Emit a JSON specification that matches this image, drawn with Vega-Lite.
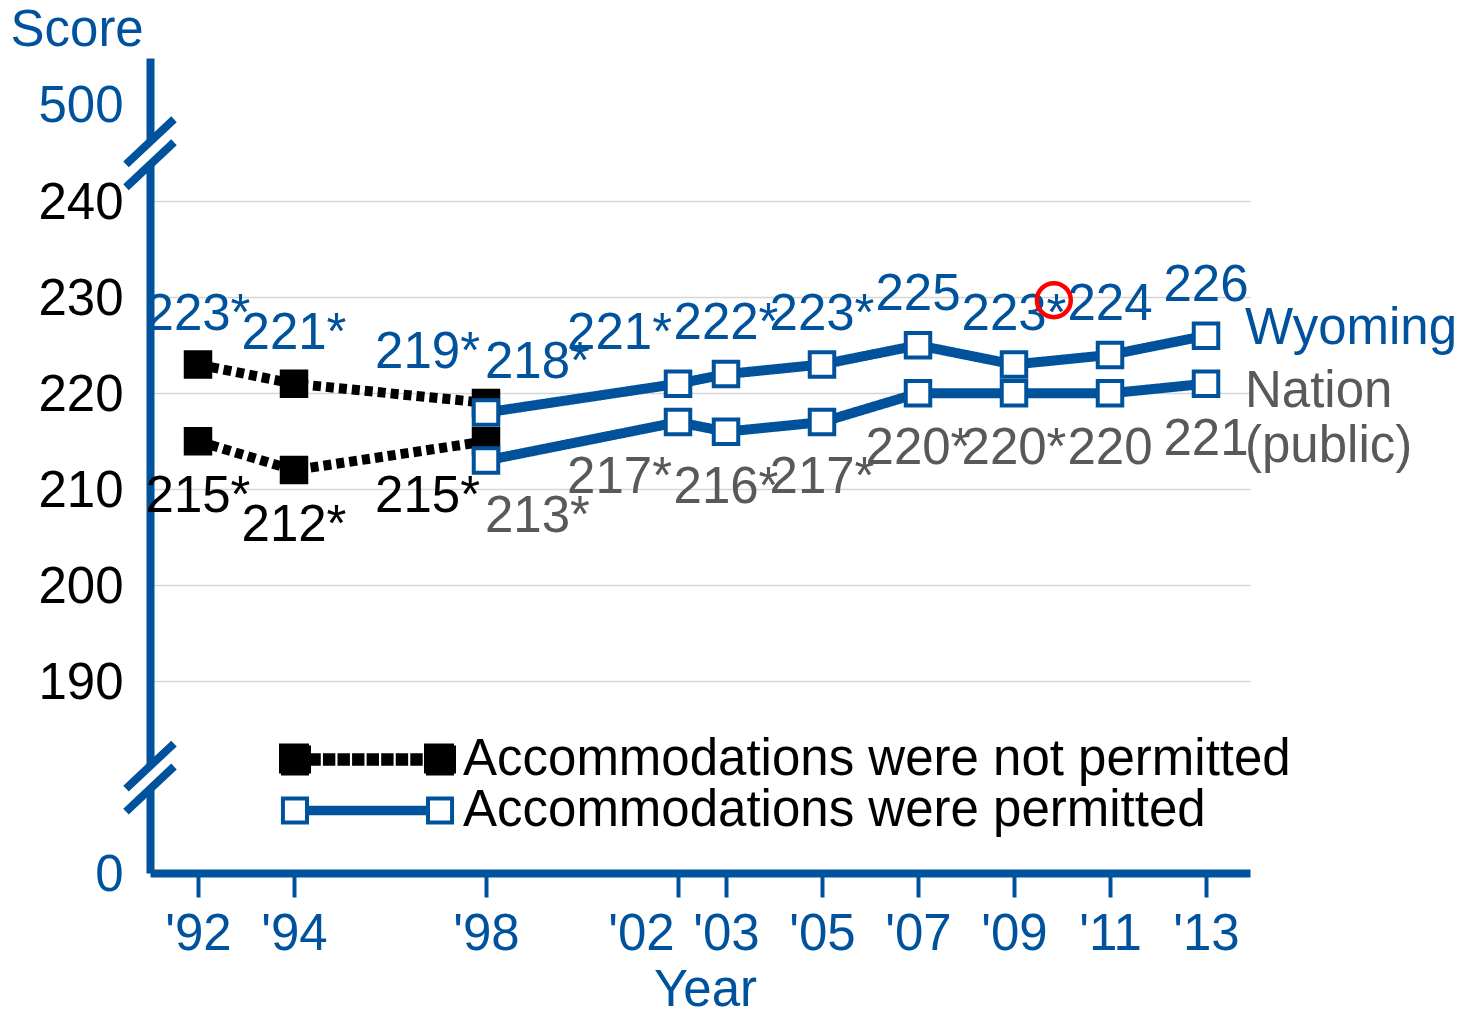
{
  "$schema": "https://vega.github.io/schema/vega-lite/v6.json",
  "width": 1100,
  "height": 815,
  "autosize": {"type": "none"},
  "padding": {"left": 150, "top": 58, "right": 214, "bottom": 139},
  "background": "white",
  "config": {
    "font": "Liberation Sans",
    "view": {"stroke": null}
  },
  "data": {"values": [
    {"jurisdiction": "Wyoming", "accom": "Accommodations were not permitted", "year": 1992, "score": 223, "label": "223*"},
    {"jurisdiction": "Wyoming", "accom": "Accommodations were not permitted", "year": 1994, "score": 221, "label": "221*"},
    {"jurisdiction": "Wyoming", "accom": "Accommodations were not permitted", "year": 1998, "score": 219, "label": "219*"},
    {"jurisdiction": "Nation (public)", "accom": "Accommodations were not permitted", "year": 1992, "score": 215, "label": "215*"},
    {"jurisdiction": "Nation (public)", "accom": "Accommodations were not permitted", "year": 1994, "score": 212, "label": "212*"},
    {"jurisdiction": "Nation (public)", "accom": "Accommodations were not permitted", "year": 1998, "score": 215, "label": "215*"},
    {"jurisdiction": "Wyoming", "accom": "Accommodations were permitted", "year": 1998, "score": 218, "label": "218*"},
    {"jurisdiction": "Wyoming", "accom": "Accommodations were permitted", "year": 2002, "score": 221, "label": "221*"},
    {"jurisdiction": "Wyoming", "accom": "Accommodations were permitted", "year": 2003, "score": 222, "label": "222*"},
    {"jurisdiction": "Wyoming", "accom": "Accommodations were permitted", "year": 2005, "score": 223, "label": "223*"},
    {"jurisdiction": "Wyoming", "accom": "Accommodations were permitted", "year": 2007, "score": 225, "label": "225"},
    {"jurisdiction": "Wyoming", "accom": "Accommodations were permitted", "year": 2009, "score": 223, "label": "223*"},
    {"jurisdiction": "Wyoming", "accom": "Accommodations were permitted", "year": 2011, "score": 224, "label": "224"},
    {"jurisdiction": "Wyoming", "accom": "Accommodations were permitted", "year": 2013, "score": 226, "label": "226"},
    {"jurisdiction": "Nation (public)", "accom": "Accommodations were permitted", "year": 1998, "score": 213, "label": "213*"},
    {"jurisdiction": "Nation (public)", "accom": "Accommodations were permitted", "year": 2002, "score": 217, "label": "217*"},
    {"jurisdiction": "Nation (public)", "accom": "Accommodations were permitted", "year": 2003, "score": 216, "label": "216*"},
    {"jurisdiction": "Nation (public)", "accom": "Accommodations were permitted", "year": 2005, "score": 217, "label": "217*"},
    {"jurisdiction": "Nation (public)", "accom": "Accommodations were permitted", "year": 2007, "score": 220, "label": "220*"},
    {"jurisdiction": "Nation (public)", "accom": "Accommodations were permitted", "year": 2009, "score": 220, "label": "220*"},
    {"jurisdiction": "Nation (public)", "accom": "Accommodations were permitted", "year": 2011, "score": 220, "label": "220"},
    {"jurisdiction": "Nation (public)", "accom": "Accommodations were permitted", "year": 2013, "score": 221, "label": "221"}
  ]},
  "encoding": {
    "x": {
      "field": "year", "type": "quantitative",
      "scale": {"domain": [1991, 2013.9167], "nice": false, "zero": false},
      "axis": {
        "values": [1992, 1994, 1998, 2002, 2003, 2005, 2007, 2009, 2011, 2013],
        "labelExpr": "\"'\" + substring(toString(datum.value), 2)",
        "labelFontSize": 51, "labelColor": "#00529C", "labelPadding": 12,
        "labelOverlap": false, "labelBound": false, "labelFlush": false,
        "labelOffset": {"condition": {"test": "datum.value == 2002", "value": -37}, "value": 0},
        "tickColor": "#00529C", "tickWidth": 4, "tickSize": 24,
        "domainColor": "#00529C", "domainWidth": 8,
        "grid": false,
        "title": "Year", "titleFontSize": 51, "titleColor": "#00529C", "titleFontWeight": "normal",
        "titleX": 555, "titleY": 132, "titleBaseline": "alphabetic", "titleAlign": "center"
      }
    },
    "y": {
      "field": "score", "type": "quantitative",
      "scale": {"domain": [0, 190, 240, 500, 600], "range": [815, 623.3, 143.3, 46, 0], "nice": false, "zero": false},
      "axis": {
        "values": [0, 190, 200, 210, 220, 230, 240, 500],
        "labelFontSize": 51,
        "labelColor": {"condition": {"test": "datum.value == 0 || datum.value == 500", "value": "#00529C"}, "value": "black"},
        "labelPadding": 27, "labelBaseline": "alphabetic", "labelOffset": 17,
        "labelOverlap": false, "labelBound": false, "labelFlush": false,
        "ticks": false, "tickSize": 0,
        "domainColor": "#00529C", "domainWidth": 8,
        "grid": true, "gridColor": "#d6d6d6", "gridWidth": 1.5,
        "gridOpacity": {"condition": {"test": "datum.value == 0 || datum.value == 500", "value": 0}, "value": 1},
        "title": "Score", "titleAngle": 0, "titleAlign": "left", "titleBaseline": "alphabetic",
        "titleX": -140, "titleY": -13, "titleFontSize": 51, "titleColor": "#00529C", "titleFontWeight": "normal"
      }
    }
  },
  "layer": [
    {
      "mark": {"type": "line", "strokeWidth": 10, "strokeCap": "butt"},
      "encoding": {
        "detail": {"field": "jurisdiction"},
        "strokeDash": {"condition": {"test": "datum.accom == 'Accommodations were not permitted'", "value": [8, 5]}, "value": [1, 0]},
        "color": {
          "field": "accom", "type": "nominal",
          "scale": {"domain": ["Accommodations were not permitted", "Accommodations were permitted"], "range": ["black", "#00529C"]},
          "legend": {
            "title": null, "orient": "none", "legendX": 192, "legendY": 676, "direction": "vertical",
            "symbolType": "square", "symbolSize": 784, "symbolStrokeWidth": 4,
            "labelFontSize": 51, "labelColor": "black", "labelLimit": 0, "labelOffset": 70,
            "rowPadding": -3, "padding": 0,
            "encode": {"symbols": {"update": {
              "shape": {"signal": "datum.value === 'Accommodations were not permitted' ? 'M-6.18,-1H-4.18V1H-6.18Z M4.18,-1H6.18V1H4.18Z M-4.08,-0.3H-3.48V0.3H-4.08Z M-3.04,-0.3H-2.44V0.3H-3.04Z M-2,-0.3H-1.4V0.3H-2Z M-0.96,-0.3H-0.36V0.3H-0.96Z M0.08,-0.3H0.68V0.3H0.08Z M1.12,-0.3H1.72V0.3H1.12Z M2.16,-0.3H2.76V0.3H2.16Z M3.2,-0.3H3.8V0.3H3.2Z' : 'M-6.04,-0.857H-4.32V0.857H-6.04Z M4.32,-0.857H6.04V0.857H4.32Z M-4.32,-0.2H4.32 M-4.32,0H4.32 M-4.32,0.2H4.32'"},
              "fill": {"signal": "datum.value === 'Accommodations were not permitted' ? 'black' : 'white'"},
              "stroke": {"signal": "datum.value === 'Accommodations were not permitted' ? 'transparent' : '#00529C'"},
              "strokeWidth": {"value": 4},
              "strokeDash": {"value": [1, 0]},
              "opacity": {"value": 1},
              "fillOpacity": {"value": 1},
              "strokeOpacity": {"value": 1}
            }}}
          }
        }
      }
    },
    {
      "mark": {"type": "point", "shape": "square", "size": 600, "strokeWidth": 4, "opacity": 1},
      "encoding": {
        "fill": {"condition": {"test": "datum.accom == 'Accommodations were not permitted'", "value": "black"}, "value": "white"},
        "stroke": {"condition": {"test": "datum.accom == 'Accommodations were not permitted'", "value": "black"}, "value": "#00529C"}
      }
    },
    {
      "transform": [{"filter": "datum.jurisdiction == 'Wyoming' && datum.year != 1998 && datum.year != 2002"}],
      "mark": {"type": "text", "fontSize": 51, "baseline": "alphabetic", "align": "center", "dy": -35, "color": "#00529C"},
      "encoding": {"text": {"field": "label"}}
    },
    {
      "transform": [{"filter": "datum.jurisdiction == 'Wyoming' && ((datum.year == 1998 && datum.accom == 'Accommodations were not permitted') || datum.year == 2002)"}],
      "mark": {"type": "text", "fontSize": 51, "baseline": "alphabetic", "align": "right", "dx": -6, "dy": -35, "color": "#00529C"},
      "encoding": {"text": {"field": "label"}}
    },
    {
      "transform": [{"filter": "datum.jurisdiction == 'Wyoming' && datum.year == 1998 && datum.accom == 'Accommodations were permitted'"}],
      "mark": {"type": "text", "fontSize": 51, "baseline": "alphabetic", "align": "left", "dx": -1, "dy": -35, "color": "#00529C"},
      "encoding": {"text": {"field": "label"}}
    },
    {
      "transform": [{"filter": "datum.jurisdiction != 'Wyoming' && datum.year != 1998 && datum.year != 2002"}],
      "mark": {"type": "text", "fontSize": 51, "baseline": "alphabetic", "align": "center", "dy": 71},
      "encoding": {
        "text": {"field": "label"},
        "color": {"condition": {"test": "datum.accom == 'Accommodations were not permitted'", "value": "black"}, "value": "#595959"}
      }
    },
    {
      "transform": [{"filter": "datum.jurisdiction != 'Wyoming' && ((datum.year == 1998 && datum.accom == 'Accommodations were not permitted') || datum.year == 2002)"}],
      "mark": {"type": "text", "fontSize": 51, "baseline": "alphabetic", "align": "right", "dx": -6, "dy": 71},
      "encoding": {
        "text": {"field": "label"},
        "color": {"condition": {"test": "datum.accom == 'Accommodations were not permitted'", "value": "black"}, "value": "#595959"}
      }
    },
    {
      "transform": [{"filter": "datum.jurisdiction != 'Wyoming' && datum.year == 1998 && datum.accom == 'Accommodations were permitted'"}],
      "mark": {"type": "text", "fontSize": 51, "baseline": "alphabetic", "align": "left", "dx": -1, "dy": 71},
      "encoding": {
        "text": {"field": "label"},
        "color": {"condition": {"test": "datum.accom == 'Accommodations were not permitted'", "value": "black"}, "value": "#595959"}
      }
    },
    {
      "transform": [{"filter": "datum.jurisdiction == 'Wyoming' && datum.year == 2013"}],
      "mark": {"type": "text", "fontSize": 51, "baseline": "alphabetic", "align": "left", "dx": 39, "dy": 8, "color": "#00529C"},
      "encoding": {"text": {"field": "jurisdiction"}}
    },
    {
      "transform": [{"filter": "datum.jurisdiction != 'Wyoming' && datum.year == 2013"}],
      "mark": {"type": "text", "fontSize": 51, "baseline": "alphabetic", "align": "left", "dx": 39, "dy": 23, "lineBreak": " ", "lineHeight": 55, "color": "#595959"},
      "encoding": {"text": {"field": "jurisdiction"}}
    },
    {
      "transform": [{"filter": "datum.jurisdiction == 'Wyoming' && datum.year == 2013"}],
      "mark": {"type": "point", "shape": "M-0.2,-0.15L0.2,-0.526L0.2,0.15L-0.2,0.526Z", "size": 4624, "fill": "white", "filled": true, "opacity": 1, "strokeWidth": 0},
      "encoding": {"x": {"datum": 1991}, "y": {"datum": 368.3}}
    },
    {
      "transform": [{"filter": "datum.jurisdiction == 'Wyoming' && datum.year == 2013"}],
      "mark": {"type": "point", "shape": "M-0.706,0.324L0.706,-1M-0.706,1L0.706,-0.324", "size": 4624, "stroke": "#00529C", "strokeWidth": 8, "strokeCap": "butt", "opacity": 1},
      "encoding": {"x": {"datum": 1991}, "y": {"datum": 368.3}}
    },
    {
      "transform": [{"filter": "datum.jurisdiction == 'Wyoming' && datum.year == 2013"}],
      "mark": {"type": "point", "shape": "M-0.2,-0.15L0.2,-0.526L0.2,0.15L-0.2,0.526Z", "size": 4624, "fill": "white", "filled": true, "opacity": 1, "strokeWidth": 0},
      "encoding": {"x": {"datum": 1991}, "y": {"datum": 94.6}}
    },
    {
      "transform": [{"filter": "datum.jurisdiction == 'Wyoming' && datum.year == 2013"}],
      "mark": {"type": "point", "shape": "M-0.706,0.324L0.706,-1M-0.706,1L0.706,-0.324", "size": 4624, "stroke": "#00529C", "strokeWidth": 8, "strokeCap": "butt", "opacity": 1},
      "encoding": {"x": {"datum": 1991}, "y": {"datum": 94.6}}
    },
    {
      "transform": [{"filter": "datum.jurisdiction == 'Wyoming' && datum.year == 2013"}],
      "mark": {"type": "point", "shape": "circle", "size": 1150, "stroke": "#ff0000", "strokeWidth": 4.5, "fill": "transparent", "opacity": 1},
      "encoding": {"x": {"datum": 2009.83}, "y": {"datum": 229.7}}
    }
  ]
}
